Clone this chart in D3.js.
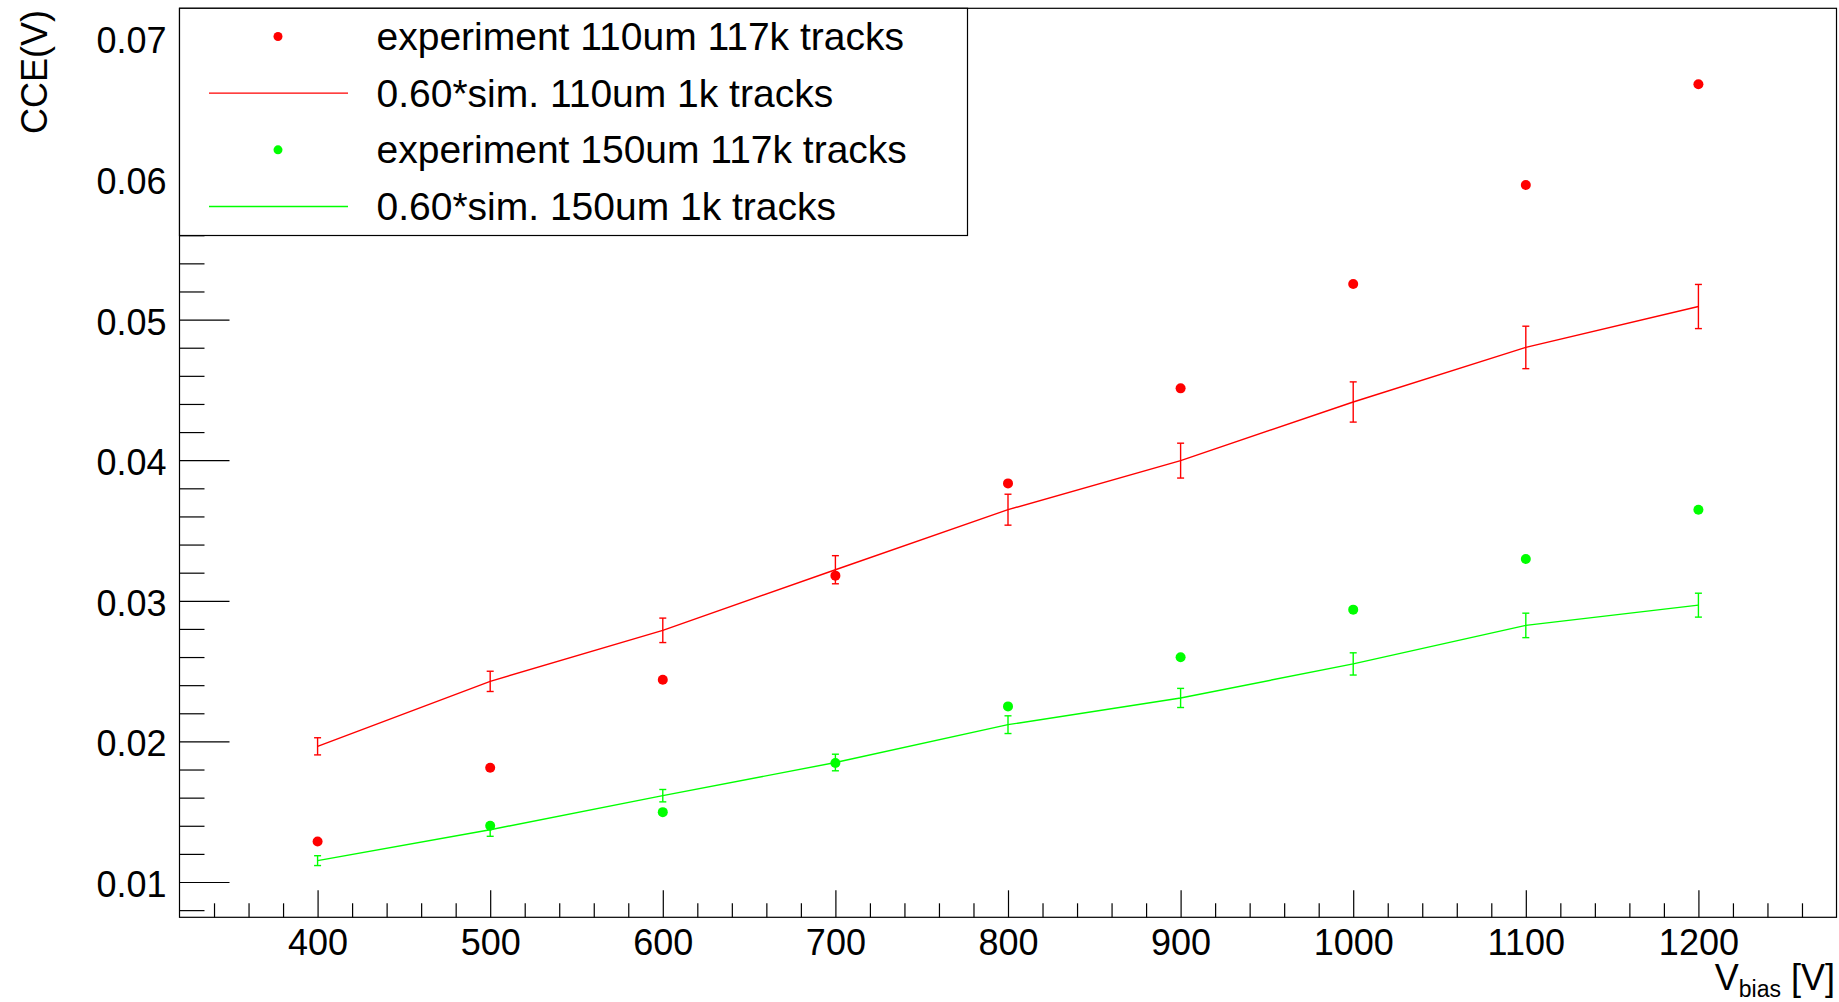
<!DOCTYPE html>
<html>
<head>
<meta charset="utf-8">
<script src="https://cdn.jsdelivr.net/npm/d3@7"></script>
<style>
  html, body { margin: 0; padding: 0; background: #fff; }
  svg { display: block; }
  text { font-family: "Liberation Sans", Arial, Helvetica, sans-serif; fill: #000; }
</style>
</head>
<body>
<svg id="chart" width="1839" height="1002"></svg>
<script>
// ---- data ----
const voltages = [400, 500, 600, 700, 800, 900, 1000, 1100, 1200];
const exp110 = [0.01288, 0.01813, 0.02439, 0.03179, 0.03835, 0.04511, 0.05253, 0.05957, 0.06674];
const sim110 = [0.01965, 0.02427, 0.0279, 0.03221, 0.03648, 0.03997, 0.04414, 0.04802, 0.05093];
const sim110Err = [0.00061, 0.00072, 0.00087, 0.0010, 0.0011, 0.00124, 0.00143, 0.00151, 0.00157];
const exp150Volt = [500, 600, 700, 800, 900, 1000, 1100, 1200];
const exp150 = [0.0140, 0.01497, 0.01846, 0.02249, 0.02598, 0.02937, 0.03297, 0.03648];
const sim150 = [0.01152, 0.01372, 0.01614, 0.0185, 0.02119, 0.02309, 0.02551, 0.02825, 0.02969];
const sim150Err = [0.00035, 0.00047, 0.00044, 0.00059, 0.00063, 0.00068, 0.00079, 0.00087, 0.00085];

const xTickValues = [400, 500, 600, 700, 800, 900, 1000, 1100, 1200];
const xTickLabels = ["400", "500", "600", "700", "800", "900", "1000", "1100", "1200"];
const yTickValues = [0.01, 0.02, 0.03, 0.04, 0.05, 0.06, 0.07];
const yTickLabels = ["0.01", "0.02", "0.03", "0.04", "0.05", "0.06", "0.07"];

const legendLabels = [
  "experiment 110um 117k tracks",
  "0.60*sim. 110um 1k tracks",
  "experiment 150um 117k tracks",
  "0.60*sim. 150um 1k tracks"
];
const legendKinds = ["dot", "line", "dot", "line"];
const legendColors = ["#ff0000", "#ff0000", "#00ff00", "#00ff00"];

// ---- layout ----
const svg = d3.select("#chart");
const L = 179.5, R = 1836.5, T = 8.3, B = 917.3;

const x = d3.scaleLinear().domain([320, 1280]).range([L, R]);
const y = d3.scaleLinear().domain([0.00749, 0.07214]).range([B, T]);

// frame
svg.append("rect").attr("x", L).attr("y", T).attr("width", R - L).attr("height", B - T)
  .attr("fill", "none").attr("stroke", "#000").attr("stroke-width", 1.2);

const red = "#ff0000", green = "#00ff00";

function drawSim(vals, errs, color) {
  const pts = voltages.map((v, i) => ({ v, c: vals[i], e: errs[i] }));
  const line = d3.line().x(d => x(d.v)).y(d => y(d.c));
  svg.append("path").datum(pts).attr("d", line)
    .attr("fill", "none").attr("stroke", color).attr("stroke-width", 1.4);
  const g = svg.append("g").attr("stroke", color).attr("stroke-width", 1.4);
  pts.forEach(d => {
    const xc = x(d.v), y1 = y(d.c + d.e), y2 = y(d.c - d.e);
    g.append("line").attr("x1", xc).attr("x2", xc).attr("y1", y1).attr("y2", y2);
    g.append("line").attr("x1", xc - 3.5).attr("x2", xc + 3.5).attr("y1", y1).attr("y2", y1);
    g.append("line").attr("x1", xc - 3.5).attr("x2", xc + 3.5).attr("y1", y2).attr("y2", y2);
  });
}
function drawExp(volts, vals, color) {
  svg.append("g").selectAll("circle").data(volts.map((v, i) => [v, vals[i]])).join("circle")
    .attr("cx", d => x(d[0])).attr("cy", d => y(d[1])).attr("r", 5).attr("fill", color);
}
drawSim(sim110, sim110Err, red);
drawSim(sim150, sim150Err, green);
drawExp(voltages, exp110, red);
drawExp(exp150Volt, exp150, green);

// ---- axes ----
const yMinor = d3.range(4, 37).map(k => k * 0.002)
  .filter(v => v >= 0.00749 && v <= 0.07214 && Math.abs(v * 100 - Math.round(v * 100)) > 1e-6);
const xMinor = d3.range(340, 1280, 20).filter(v => v % 100 !== 0);

const yAxis = d3.axisLeft(y).tickValues(yTickValues).tickFormat((d, i) => yTickLabels[i])
  .tickSize(-50).tickPadding(13);
const yAxisMinor = d3.axisLeft(y).tickValues(yMinor).tickFormat("").tickSize(-25);
const xAxis = d3.axisBottom(x).tickValues(xTickValues).tickFormat((d, i) => xTickLabels[i])
  .tickSize(-27).tickPadding(12);
const xAxisMinor = d3.axisBottom(x).tickValues(xMinor).tickFormat("").tickSize(-14);

function styleAxis(g) {
  g.select(".domain").remove();
  g.selectAll(".tick line").attr("stroke", "#000").attr("stroke-width", 1.2);
  g.selectAll("text").style("font-size", "36px").attr("fill", "#000")
    .style("font-family", '"Liberation Sans", Arial, Helvetica, sans-serif');
}
svg.append("g").attr("transform", `translate(${L},0)`).call(yAxis).call(styleAxis)
  .selectAll(".tick text").attr("dy", "0.40em");
svg.append("g").attr("transform", `translate(${L},0)`).call(yAxisMinor).call(styleAxis);
svg.append("g").attr("transform", `translate(0,${B})`).call(xAxis).call(styleAxis);
svg.append("g").attr("transform", `translate(0,${B})`).call(xAxisMinor).call(styleAxis);

// axis titles
svg.append("text").attr("transform", "translate(47,10) rotate(-90)")
  .attr("text-anchor", "end").style("font-size", "36px").text("CCE(V)");
const xt = svg.append("text").attr("x", 1835).attr("y", 990).attr("text-anchor", "end")
  .style("font-size", "36px");
xt.append("tspan").text("V");
xt.append("tspan").attr("dy", 7).style("font-size", "23px").text("bias");
xt.append("tspan").attr("dy", -7).text(" [V]");

// ---- legend ----
const LX1 = 179.5, LY1 = 8.3, LX2 = 967.5, LY2 = 235.5;
svg.append("rect").attr("x", LX1).attr("y", LY1).attr("width", LX2 - LX1).attr("height", LY2 - LY1)
  .attr("fill", "#fff").attr("stroke", "#000").attr("stroke-width", 1.2);
const rowY = d3.scaleLinear().domain([0, 3]).range([36.5, 206.5]);
legendLabels.forEach((lab, i) => {
  const cy = rowY(i);
  if (legendKinds[i] === "dot") {
    svg.append("circle").attr("cx", 278).attr("cy", cy).attr("r", 4.5).attr("fill", legendColors[i]);
  } else {
    svg.append("line").attr("x1", 209).attr("x2", 348).attr("y1", cy).attr("y2", cy)
      .attr("stroke", legendColors[i]).attr("stroke-width", 1.4);
  }
  svg.append("text").attr("x", 376.5).attr("y", cy + 13.5).style("font-size", "39px").text(lab);
});
</script>
</body>
</html>
